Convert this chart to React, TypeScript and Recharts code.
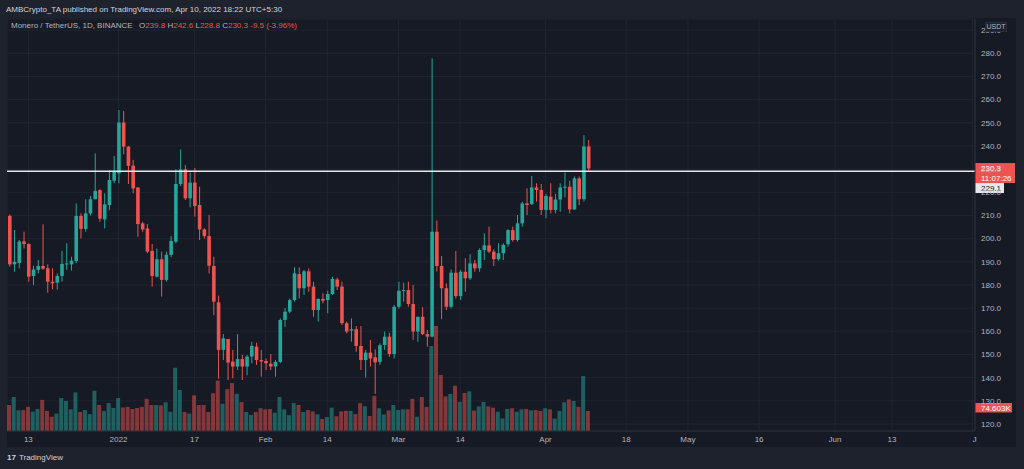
import {
  ComposedChart,
  Bar,
  XAxis,
  YAxis,
  CartesianGrid,
  ReferenceLine,
  Cell,
} from "recharts";

// XMR/USDT daily candles, Dec 9 2021 -> Apr 10 2022
const OPEN = [
  209.8, 188.9, 189.5, 198.8, 197.7, 183.9, 186.5, 188.2, 187.2, 181.4,
  181.0, 183.9, 188.9, 188.9, 190.4, 209.8, 204.2, 210.9, 217.0, 221.0,
  208.3, 214.5, 225.0, 228.2, 250.1, 239.7, 231.5, 222.1, 206.6, 204.4,
  194.7, 183.6, 191.1, 182.2, 193.0, 198.7, 223.6, 229.9, 217.4, 224.2,
  214.5, 204.0, 201.1, 188.2, 172.5, 152.0, 156.7, 146.9, 144.8, 148.0,
  144.8, 149.1, 153.4, 147.6, 147.2, 146.0, 144.8, 146.8, 164.9, 168.5,
  173.5, 184.7, 178.6, 185.9, 179.3, 169.2, 174.0, 173.5, 176.1, 182.4,
  179.3, 163.5, 160.3, 160.9, 153.7, 147.6, 150.8, 148.8, 146.8, 154.1,
  157.7, 150.2, 170.6, 177.5, 177.8, 171.8, 159.9, 166.3, 158.8, 157.7,
  203.0, 188.2, 178.6, 170.6, 185.3, 175.2, 185.7, 182.9, 189.3, 187.2,
  195.1, 197.1, 194.4, 191.1, 193.7, 197.6, 203.7, 199.4, 206.6, 215.2,
  214.9, 222.1, 221.0, 212.4, 218.1, 212.4, 216.9, 222.1, 222.4, 212.6,
  226.0, 217.0, 239.8,
];

const HIGH = [
  210.5, 203.7, 199.4, 203.0, 198.0, 188.3, 190.8, 206.2, 188.9, 187.2,
  185.0, 194.7, 198.0, 192.2, 215.2, 210.9, 217.0, 218.4, 236.8, 221.3,
  219.6, 229.6, 235.7, 255.5, 255.1, 240.0, 234.0, 222.1, 207.3, 206.3,
  197.7, 195.7, 194.4, 194.4, 201.1, 229.9, 238.5, 231.8, 228.5, 230.5,
  222.4, 204.5, 210.2, 192.2, 175.4, 158.8, 156.7, 152.0, 158.8, 149.8,
  149.8, 155.5, 155.1, 152.0, 148.3, 150.2, 147.6, 165.6, 170.0, 174.2,
  187.6, 187.6, 186.5, 187.2, 181.4, 174.2, 176.4, 177.5, 183.6, 183.2,
  181.4, 164.2, 165.6, 162.3, 162.3, 152.0, 156.3, 152.2, 154.8, 159.9,
  159.4, 171.4, 181.4, 181.0, 181.4, 180.0, 166.3, 170.4, 160.6, 277.8,
  207.8, 192.5, 180.7, 186.7, 194.7, 186.5, 191.5, 193.3, 190.8, 195.8,
  202.3, 205.2, 195.4, 198.0, 198.0, 204.0, 205.2, 210.2, 215.9, 221.7,
  227.0, 223.9, 223.6, 219.3, 223.9, 219.3, 223.9, 228.5, 225.0, 226.8,
  226.8, 244.7, 242.6,
];

const LOW = [
  187.9, 185.7, 187.2, 195.8, 181.4, 180.0, 185.0, 186.5, 176.7, 178.1,
  178.0, 181.4, 186.5, 186.2, 189.4, 200.1, 203.0, 210.0, 217.0, 207.3,
  204.4, 212.3, 223.9, 223.9, 236.4, 223.6, 219.6, 200.8, 203.0, 193.7,
  179.3, 183.2, 175.0, 181.4, 192.0, 198.0, 222.7, 216.7, 213.5, 209.5,
  199.4, 200.0, 185.0, 167.0, 139.5, 147.6, 139.0, 139.7, 143.3, 139.0,
  141.0, 146.2, 145.5, 140.4, 143.3, 143.3, 140.4, 146.2, 162.0, 167.8,
  172.8, 174.2, 175.7, 177.1, 166.3, 164.2, 172.1, 167.8, 175.7, 177.8,
  162.7, 159.1, 155.5, 151.2, 143.3, 140.0, 144.8, 133.0, 145.5, 152.0,
  149.0, 148.3, 169.9, 172.8, 170.6, 156.3, 155.5, 158.4, 153.4, 157.4,
  185.8, 165.2, 169.2, 169.9, 174.2, 173.5, 177.1, 182.2, 185.7, 185.7,
  190.8, 193.7, 188.2, 190.5, 190.8, 196.5, 198.7, 198.7, 205.2, 210.2,
  214.5, 216.0, 210.2, 208.8, 210.9, 210.9, 211.6, 217.8, 210.9, 212.4,
  214.5, 216.0, 228.8,
];

const CLOSE = [
  188.9, 190.0, 198.8, 197.7, 183.6, 186.7, 188.2, 187.0, 181.4, 180.7,
  183.9, 189.1, 189.3, 190.5, 209.8, 204.2, 210.9, 217.0, 220.6, 208.6,
  214.8, 225.3, 228.9, 250.1, 239.7, 231.4, 221.7, 206.3, 204.0, 194.4,
  183.9, 191.1, 182.2, 193.0, 199.0, 223.6, 229.9, 217.4, 224.2, 214.1,
  204.0, 201.1, 188.3, 172.8, 152.0, 157.0, 146.5, 144.8, 148.0, 144.8,
  149.1, 153.7, 147.6, 147.0, 146.2, 144.8, 146.8, 164.9, 168.5, 173.5,
  185.0, 178.6, 185.9, 179.3, 169.2, 174.0, 173.2, 176.1, 182.6, 179.3,
  163.5, 159.9, 160.9, 153.7, 147.6, 150.8, 148.3, 146.6, 154.0, 157.7,
  150.2, 170.6, 177.5, 177.8, 171.8, 159.9, 166.3, 158.8, 157.7, 203.0,
  188.2, 178.6, 170.6, 185.3, 175.2, 185.7, 182.9, 189.3, 187.2, 195.1,
  197.1, 194.4, 191.1, 193.7, 197.3, 203.7, 199.4, 206.6, 215.2, 214.5,
  222.1, 221.0, 212.4, 218.4, 212.4, 216.9, 222.1, 222.4, 212.6, 226.0,
  217.0, 239.8, 230.3,
];

// volume in thousands
const VOLUME_K = [
  97, 127, 77, 78, 90, 72, 82, 116, 75, 53,
  65, 123, 112, 81, 144, 71, 78, 63, 150, 97,
  75, 104, 86, 123, 88, 90, 82, 86, 90, 120,
  97, 97, 96, 107, 72, 236, 153, 71, 65, 133,
  97, 97, 71, 141, 188, 102, 156, 179, 139, 108,
  71, 60, 71, 85, 81, 82, 68, 127, 81, 59,
  104, 97, 71, 78, 73, 62, 45, 52, 87, 55,
  73, 75, 75, 63, 104, 92, 56, 131, 85, 62,
  77, 97, 78, 81, 81, 120, 53, 127, 90, 317,
  392, 209, 129, 138, 169, 109, 142, 148, 76, 92,
  108, 92, 87, 72, 47, 82, 85, 72, 81, 82,
  77, 78, 75, 85, 81, 46, 75, 107, 118, 112,
  90, 205, 74.603,
];

const PRICE_TICKS = [
  120, 130, 140, 150, 160, 170, 180, 190, 200, 210, 220, 230, 240, 250, 260,
  270, 280, 290,
];
const TICK_DATES = [
  "2021-12-13", "2022-01-01", "2022-01-17", "2022-02-01", "2022-02-14",
  "2022-03-01", "2022-03-14", "2022-04-01", "2022-04-18", "2022-05-01",
  "2022-05-16", "2022-06-01", "2022-06-13", "2022-06-30",
];
const TICK_LABELS = [
  "13", "2022", "17", "Feb", "14", "Mar", "14", "Apr", "18", "May", "16",
  "Jun", "13", "Jul",
];

const HORIZONTAL_LEVEL = 229.1;
const COUNTDOWN = "11:07:26";

const UP = "#26a69a";
const DOWN = "#ef5350";
const FRAME = "#1e222d";
const PANE = "#161a25";
const GRID = "#21252f";
const AXIS_LINE = "#2a2e39";
const TEXT = "#b2b5be";
const FONT = '"Liberation Sans", Arial, sans-serif';

// one category per day, Dec 9 2021 .. Jun 30 2022
const DATES: string[] = [];
for (let d = Date.UTC(2021, 11, 9); d <= Date.UTC(2022, 5, 30); d += 86400000) {
  DATES.push(new Date(d).toISOString().slice(0, 10));
}

const rows = DATES.map((date, i) =>
  i < OPEN.length
    ? {
        date,
        open: OPEN[i],
        high: HIGH[i],
        low: LOW[i],
        close: CLOSE[i],
        range: [LOW[i], HIGH[i]],
        volume: VOLUME_K[i],
      }
    : { date }
);

const last = OPEN.length - 1;
const change = CLOSE[last] - CLOSE[last - 1];
const changePct = (change / CLOSE[last - 1]) * 100;

function Candle(props: any) {
  const { x, y, width, height, payload } = props;
  if (payload.open == null) return null;
  const { open, close, high, low } = payload;
  const top = Math.min(y, y + height);
  const h = Math.abs(height);
  const span = high - low || 1;
  const py = (v: number) => top + ((high - v) / span) * h;
  const color = close >= open ? UP : DOWN;
  const cx = x + width / 2;
  const bodyTop = py(Math.max(open, close));
  const bodyH = Math.max(1, py(Math.min(open, close)) - bodyTop);
  return (
    <g>
      <line x1={cx} x2={cx} y1={top} y2={top + h} stroke={color} strokeWidth={1} />
      <rect x={x} y={bodyTop} width={width} height={bodyH} fill={color} />
    </g>
  );
}

function TimeTick(props: any) {
  const { x, y, payload } = props;
  const i = TICK_DATES.indexOf(payload.value);
  const isLast = i === TICK_DATES.length - 1;
  const t = (
    <text
      x={x + (isLast ? 5 : 0)}
      y={y}
      dy={5.5}
      textAnchor="middle"
      fill={TEXT}
      fontSize={8}
      fontFamily={FONT}
    >
      {TICK_LABELS[i]}
    </text>
  );
  if (!isLast) return t;
  return (
    <g>
      <defs>
        <clipPath id="time-clip">
          <rect x={0} y={0} width={970} height={500} />
        </clipPath>
      </defs>
      <g clipPath="url(#time-clip)">{t}</g>
    </g>
  );
}

function LastTag({ viewBox }: any) {
  if (!viewBox) return null;
  const x = viewBox.x + viewBox.width;
  const y = viewBox.y;
  return (
    <g fontFamily={FONT} fontSize={8} fill="#ffffff">
      <rect x={x} y={y - 5.4} width={40} height={20} fill={DOWN} />
      <text x={x + 6} y={y + 3}>{CLOSE[last].toFixed(1)}</text>
      <text x={x + 6} y={y + 12.5}>{COUNTDOWN}</text>
    </g>
  );
}

function LevelTag({ viewBox }: any) {
  if (!viewBox) return null;
  const x = viewBox.x + viewBox.width;
  const y = viewBox.y;
  return (
    <g fontFamily={FONT} fontSize={8}>
      <rect x={x} y={y + 11.8} width={29} height={10} fill="#e6e8ee" />
      <text x={x + 6} y={y + 19.8} fill="#131722">
        {HORIZONTAL_LEVEL.toFixed(1)}
      </text>
    </g>
  );
}

function VolTag({ viewBox }: any) {
  if (!viewBox) return null;
  const x = viewBox.x + viewBox.width;
  const y = viewBox.y;
  return (
    <g fontFamily={FONT} fontSize={8}>
      <rect x={x} y={y - 8} width={37} height={9.5} fill={DOWN} />
      <text x={x + 6} y={y - 0.5} fill="#ffffff">
        {VOLUME_K[last].toFixed(3)}K
      </text>
    </g>
  );
}

export default function App() {
  return (
    <div
      style={{
        position: "fixed",
        left: 0,
        top: 0,
        width: 1024,
        height: 469,
        background: FRAME,
        fontFamily: FONT,
        overflow: "hidden",
      }}
    >
      <div
        style={{
          position: "absolute",
          left: 6,
          top: 5,
          fontSize: 8,
          lineHeight: "10px",
          color: "#d1d4dc",
          whiteSpace: "nowrap",
        }}
      >
        AMBCrypto_TA published on TradingView.com, Apr 10, 2022 18:22 UTC+5:30
      </div>

      <div
        style={{
          position: "absolute",
          left: 7,
          top: 18,
          width: 1009,
          height: 429,
          background: PANE,
        }}
      >
        <ComposedChart
          width={1009}
          height={429}
          data={rows}
          margin={{ top: 1, right: 0, bottom: 0, left: 0 }}
        >
          <CartesianGrid stroke={GRID} xAxisId="time" yAxisId="price" />
          <XAxis
            xAxisId="time"
            dataKey="date"
            type="category"
            ticks={TICK_DATES}
            interval={0}
            tick={<TimeTick />}
            tickLine={false}
            tickSize={4}
            tickMargin={1}
            axisLine={{ stroke: AXIS_LINE }}
            height={16}
          />
          <XAxis xAxisId="vol" dataKey="date" type="category" hide />
          <YAxis
            yAxisId="price"
            orientation="right"
            width={41}
            domain={[116.98, 294.8]}
            allowDataOverflow
            ticks={PRICE_TICKS}
            interval={0}
            tickLine={false}
            tickSize={6}
            tickMargin={0}
            axisLine={{ stroke: AXIS_LINE }}
            tick={{ fill: TEXT, fontSize: 8, fontFamily: FONT }}
            tickFormatter={(v: number) => v.toFixed(1)}
          />
          <YAxis yAxisId="vol" hide domain={[0, 1537]} allowDataOverflow />
          <Bar
            xAxisId="vol"
            yAxisId="vol"
            dataKey="volume"
            barSize={4}
            isAnimationActive={false}
          >
            {rows.map((r: any) => (
              <Cell
                key={r.date}
                fill={r.close >= r.open ? UP : DOWN}
                fillOpacity={0.5}
              />
            ))}
          </Bar>
          <Bar
            xAxisId="time"
            yAxisId="price"
            dataKey="range"
            barSize={3.6}
            shape={<Candle />}
            isAnimationActive={false}
          />
          <ReferenceLine
            xAxisId="time"
            yAxisId="price"
            y={HORIZONTAL_LEVEL}
            stroke="#e6e8ee"
            strokeWidth={1.6}
            label={<LevelTag />}
          />
          <ReferenceLine
            xAxisId="time"
            yAxisId="price"
            y={CLOSE[last]}
            stroke="none"
            label={<LastTag />}
          />
          <ReferenceLine
            xAxisId="vol"
            yAxisId="vol"
            y={VOLUME_K[last]}
            stroke="none"
            label={<VolTag />}
          />
        </ComposedChart>

        <div
          style={{
            position: "absolute",
            left: 4,
            top: 3,
            fontSize: 8,
            lineHeight: "10px",
            color: TEXT,
            whiteSpace: "nowrap",
          }}
        >
          Monero / TetherUS, 1D, BINANCE{"  "}
          <span style={{ marginLeft: 4 }}>O</span>
          <span style={{ color: DOWN }}>{OPEN[last].toFixed(1)}</span>{" "}
          H<span style={{ color: DOWN }}>{HIGH[last].toFixed(1)}</span>{" "}
          L<span style={{ color: DOWN }}>{LOW[last].toFixed(1)}</span>{" "}
          C<span style={{ color: DOWN }}>{CLOSE[last].toFixed(1)}</span>{" "}
          <span style={{ color: DOWN }}>
            {change.toFixed(1)} ({changePct.toFixed(2)}%)
          </span>
        </div>

        <div
          style={{
            position: "absolute",
            left: 978,
            top: 3.5,
            width: 22,
            height: 10,
            background: "#1e222d",
            border: "1px solid #2a2e39",
            boxSizing: "border-box",
            color: TEXT,
            fontSize: 7,
            lineHeight: "8px",
            textAlign: "center",
          }}
        >
          USDT
        </div>
      </div>

      <div
        style={{
          position: "absolute",
          left: 7,
          top: 453,
          fontSize: 8,
          lineHeight: "10px",
          color: "#d1d4dc",
          whiteSpace: "nowrap",
        }}
      >
        <span style={{ fontWeight: 900, marginRight: 3 }}>17</span>
        TradingView
      </div>
    </div>
  );
}
